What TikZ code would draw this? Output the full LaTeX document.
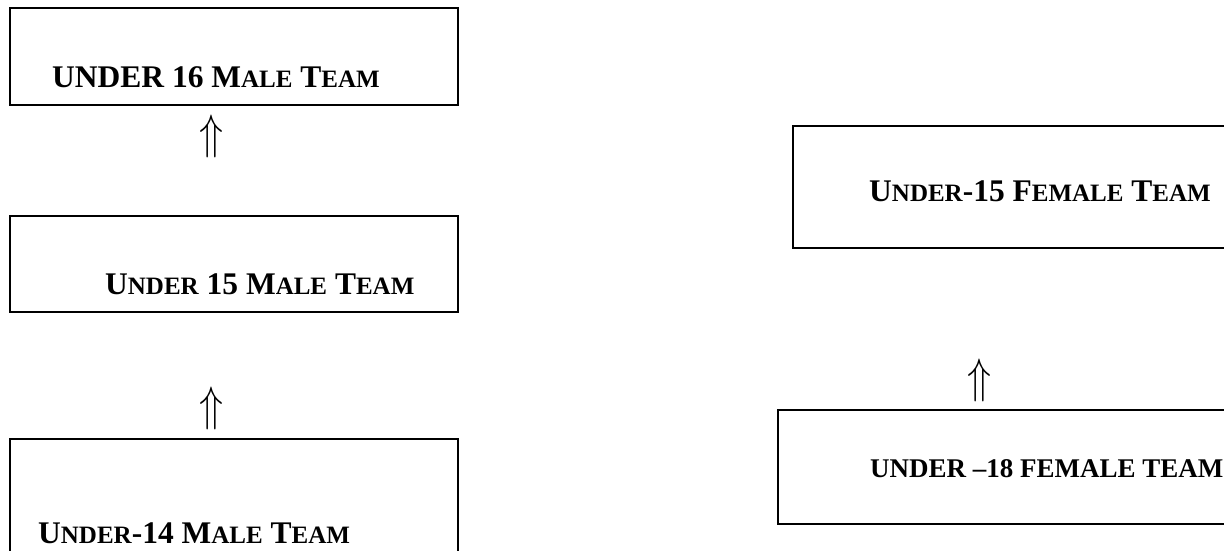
\documentclass[tikz,border=0pt]{standalone}
\usepackage{fontspec}
\setmainfont{Liberation Serif}
\usepackage{graphicx}
\usepackage{tikz}
\usetikzlibrary{positioning}
% fake small capitals: smaller upper case letters
\newcommand{\lowcaps}[1]{{\fontsize{25}{25}\selectfont #1}}
\newcommand{\uparr}{\resizebox*{24pt}{43pt}{$\Uparrow$}}

\begin{document}
\begin{tikzpicture}[
      x=1pt, y=-1pt,
      teambox/.style={
         draw=black,
         line width=1.8pt,
         inner sep=0pt,
         anchor=north west},
      teamlabel/.style={
         inner sep=0pt,
         anchor=base west,
         font=\bfseries\fontsize{31.5}{31.5}\selectfont},
      uparrow/.style={
         inner sep=0pt},
      ]
      \useasboundingbox (0,0) rectangle (1224,550);

      % male teams
      \node[teambox, minimum width=448pt, minimum height=97pt] (u16m) at (9,7) {};
      \node[teambox, minimum width=448pt, minimum height=96pt] (u15m) at (9,215) {};
      \node[teambox, minimum width=448pt, minimum height=140pt] (u14m) at (9,438) {};

      \node[teamlabel] (u16mtxt) at (52,87) {UNDER 16 M\lowcaps{ALE} T\lowcaps{EAM}};
      \node[teamlabel] (u15mtxt) at (105,294) {U\lowcaps{NDER} 15 M\lowcaps{ALE} T\lowcaps{EAM}};
      \node[teamlabel] (u14mtxt) at (38,543) {U\lowcaps{NDER}-14 M\lowcaps{ALE} T\lowcaps{EAM}};

      \node[uparrow] (arr1) at (212,136.5) {\uparr};
      \node[uparrow] (arr2) at (212,408.5) {\uparr};

      % female teams
      \node[teambox, minimum width=445pt, minimum height=122pt] (u15f) at (792,125) {};
      \node[teambox, minimum width=460pt, minimum height=114pt] (u18f) at (777,409) {};

      \node[teamlabel] (u15ftxt) at (869,201) {U\lowcaps{NDER}-15 F\lowcaps{EMALE} T\lowcaps{EAM}};
      \node[teamlabel, font=\bfseries\fontsize{27}{27}\selectfont] (u18ftxt) at (870,477) {UNDER --18 FEMALE TEAM};

      \node[uparrow] (arr3) at (979,380) {\uparr};
\end{tikzpicture}
\end{document}
